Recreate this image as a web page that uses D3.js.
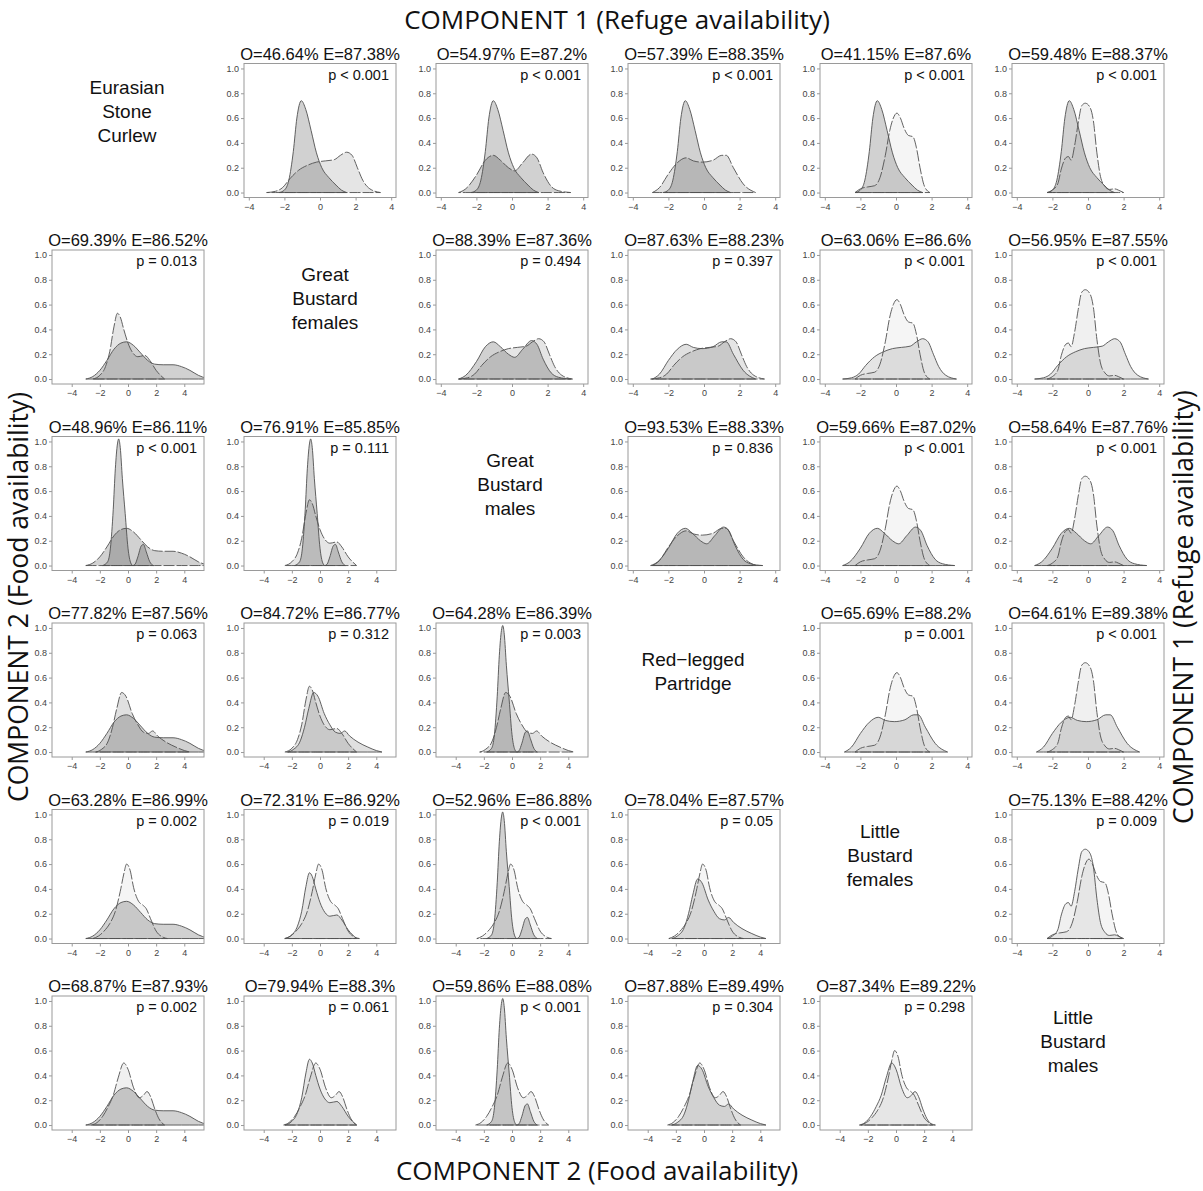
<!DOCTYPE html>
<html>
<head>
<meta charset="utf-8">
<script src="https://cdn.jsdelivr.net/npm/d3@7"></script>
<style>
body { margin: 0; background: #fff; }
svg text { font-family: "Liberation Sans", Arial, sans-serif; }
</style>
</head>
<body>
<svg id="chart" width="1203" height="1191"></svg>
<script>
// species, same order for rows and columns (label lines)
const speciesNames = [
    ["Eurasian", "Stone", "Curlew"],
    ["Great", "Bustard", "females"],
    ["Great", "Bustard", "males"],
    ["Red\u2212legged", "Partridge"],
    ["Little", "Bustard", "females"],
    ["Little", "Bustard", "males"]
];

// component 1 (refuge availability) densities, [score, density]
const refugeStoneCurlew = [[-2.3,0],[-2.0,0.02],[-1.75,0.1],[-1.5,0.33],[-1.3,0.6],[-1.05,0.74],[-0.8,0.67],[-0.5,0.5],[-0.2,0.32],[0.1,0.2],[0.5,0.12],[0.9,0.06],[1.2,0.02],[1.5,0]];
const refugeGreatBustardF = [[-3.0,0],[-2.5,0.01],[-2.1,0.04],[-1.7,0.11],[-1.2,0.18],[-0.7,0.22],[-0.2,0.245],[0.3,0.255],[0.8,0.265],[1.15,0.3],[1.5,0.325],[1.8,0.3],[2.1,0.2],[2.4,0.1],[2.8,0.03],[3.4,0]];
const refugeGreatBustardM = [[-3.0,0],[-2.6,0.03],[-2.0,0.14],[-1.5,0.26],[-1.05,0.3],[-0.65,0.26],[-0.2,0.2],[0.15,0.175],[0.6,0.24],[1.1,0.31],[1.4,0.28],[1.75,0.16],[2.2,0.05],[2.6,0.015],[3.3,0]];
const refugeRedLeggedPartridge = [[-2.9,0],[-2.5,0.04],[-2.0,0.15],[-1.5,0.24],[-1.0,0.28],[-0.6,0.255],[-0.1,0.245],[0.5,0.26],[1.0,0.3],[1.25,0.3],[1.65,0.2],[2.2,0.07],[2.9,0]];
const refugeLittleBustardF = [[-2.3,0],[-2.0,0.03],[-1.6,0.045],[-1.2,0.055],[-0.9,0.12],[-0.6,0.3],[-0.35,0.5],[-0.15,0.6],[0.05,0.64],[0.25,0.6],[0.45,0.52],[0.7,0.46],[0.95,0.45],[1.15,0.36],[1.35,0.2],[1.6,0.05],[1.9,0]];
const refugeLittleBustardM = [[-2.3,0],[-2.0,0.02],[-1.7,0.07],[-1.5,0.19],[-1.25,0.28],[-1.1,0.29],[-0.95,0.26],[-0.75,0.38],[-0.55,0.56],[-0.35,0.7],[-0.15,0.72],[0.1,0.69],[0.3,0.58],[0.5,0.32],[0.7,0.13],[0.95,0.05],[1.2,0.025],[1.5,0.03],[1.7,0.02],[2.0,0]];

// component 2 (food availability) densities
const foodStoneCurlew = [[-3.0,0],[-2.5,0.02],[-2.0,0.07],[-1.5,0.15],[-1.0,0.24],[-0.5,0.29],[-0.1,0.3],[0.4,0.27],[0.9,0.21],[1.4,0.15],[1.9,0.12],[2.5,0.115],[3.2,0.115],[3.8,0.1],[4.4,0.07],[5.0,0.03],[5.6,0.005]];
const foodGreatBustardF = [[-2.5,0],[-2.0,0.03],[-1.6,0.1],[-1.3,0.22],[-1.0,0.42],[-0.75,0.53],[-0.55,0.5],[-0.3,0.4],[0,0.29],[0.35,0.21],[0.7,0.18],[1.2,0.19],[1.55,0.15],[2.0,0.07],[2.6,0]];
const foodGreatBustardM = [[-1.8,0],[-1.45,0.03],[-1.25,0.14],[-1.05,0.45],[-0.9,0.78],[-0.75,0.98],[-0.66,1.02],[-0.55,0.95],[-0.4,0.7],[-0.2,0.42],[0,0.14],[0.2,0.02],[0.35,0],[0.5,0.01],[0.7,0.07],[0.95,0.16],[1.1,0.17],[1.3,0.11],[1.55,0.03],[1.8,0]];
const foodRedLeggedPartridge = [[-2.3,0],[-1.9,0.02],[-1.4,0.09],[-1.1,0.2],[-0.8,0.35],[-0.45,0.48],[-0.15,0.45],[0.3,0.31],[0.7,0.22],[1.1,0.16],[1.45,0.15],[1.75,0.17],[2.1,0.13],[2.7,0.08],[3.4,0.04],[4.0,0.012],[4.4,0]];
const foodLittleBustardF = [[-2.5,0],[-2.1,0.02],[-1.7,0.06],[-1.3,0.12],[-0.9,0.22],[-0.55,0.38],[-0.3,0.52],[-0.1,0.6],[0.15,0.55],[0.4,0.41],[0.75,0.3],[1.05,0.27],[1.3,0.24],[1.6,0.16],[2.0,0.06],[2.5,0.01],[2.8,0]];
const foodLittleBustardM = [[-2.6,0],[-2.2,0.02],[-1.8,0.07],[-1.4,0.15],[-1.05,0.24],[-0.7,0.38],[-0.3,0.5],[0,0.45],[0.4,0.3],[0.8,0.22],[1.1,0.24],[1.35,0.27],[1.6,0.23],[1.9,0.13],[2.2,0.05],[2.6,0]];

const refugeDensity = [refugeStoneCurlew, refugeGreatBustardF, refugeGreatBustardM, refugeRedLeggedPartridge, refugeLittleBustardF, refugeLittleBustardM];
const foodDensity = [foodStoneCurlew, foodGreatBustardF, foodGreatBustardM, foodRedLeggedPartridge, foodLittleBustardF, foodLittleBustardM];

// overlap stats [row][col]: upper triangle = component 1, lower = component 2
const observed = [
    [null, 46.64, 54.97, 57.39, 41.15, 59.48],
    [69.39, null, 88.39, 87.63, 63.06, 56.95],
    [48.96, 76.91, null, 93.53, 59.66, 58.64],
    [77.82, 84.72, 64.28, null, 65.69, 64.61],
    [63.28, 72.31, 52.96, 78.04, null, 75.13],
    [68.87, 79.94, 59.86, 87.88, 87.34, null]
];
const expected = [
    [null, 87.38, 87.2, 88.35, 87.6, 88.37],
    [86.52, null, 87.36, 88.23, 86.6, 87.55],
    [86.11, 85.85, null, 88.33, 87.02, 87.76],
    [87.56, 86.77, 86.39, null, 88.2, 89.38],
    [86.99, 86.92, 86.88, 87.57, null, 88.42],
    [87.93, 88.3, 88.08, 89.49, 89.22, null]
];
const pValues = [
    [null, "< 0.001", "< 0.001", "< 0.001", "< 0.001", "< 0.001"],
    ["= 0.013", null, "= 0.494", "= 0.397", "< 0.001", "< 0.001"],
    ["< 0.001", "= 0.111", null, "= 0.836", "< 0.001", "< 0.001"],
    ["= 0.063", "= 0.312", "= 0.003", null, "= 0.001", "< 0.001"],
    ["= 0.002", "= 0.019", "< 0.001", "= 0.05", null, "= 0.009"],
    ["= 0.002", "= 0.061", "< 0.001", "= 0.304", "= 0.298", null]
];
const yTicks = [0, 0.2, 0.4, 0.6, 0.8, 1.0];
const xTicks = [-4, -2, 0, 2, 4];

// layout / styles
const pitchX = 192;
const pitchY = 186.5;
const left0 = 52;
const top0 = 63.5;
const boxW = 152;
const boxH = 134;
const fillOpacity = [0.18, 0.1, 0.18, 0.12, 0.04, 0.06];   // grey tone per species
const labelCenter = [127, 325, 510, 693, 880, 1073];       // diagonal label x
const labelTop = [30.5, 30.5, 30, 43, 28.5, 28];

const svg = d3.select("#chart");

const y = d3.scaleLinear().domain([-0.04, 1.04]).range([boxH, 0]);
const xRefuge = d3.scaleLinear().domain([-4.27, 4.27]).range([0, boxW]);
const xFood = d3.scaleLinear().domain([-5.4, 5.4]).range([0, boxW]);

function drawPanel(row, col) {
    const upper = col > row;
    const x = upper ? xRefuge : xFood;
    const dens = upper ? refugeDensity : foodDensity;

    const g = svg.append("g")
        .attr("transform", "translate(" + (left0 + pitchX * col) + "," + (top0 + pitchY * row) + ")");

    const clipId = "clip-" + row + "-" + col;
    g.append("clipPath").attr("id", clipId)
        .append("rect").attr("width", boxW).attr("height", boxH);

    const area = d3.area()
        .x(d => x(d[0]))
        .y0(y(0))
        .y1(d => y(d[1]))
        .curve(d3.curveMonotoneX);

    // darker species first, lighter one dashed
    const pair = [row, col].sort((a, b) => fillOpacity[b] - fillOpacity[a]);
    const plot = g.append("g").attr("clip-path", "url(#" + clipId + ")");

    pair.forEach(s => {
        plot.append("path")
            .attr("d", area(dens[s]))
            .attr("fill", "#000")
            .attr("fill-opacity", fillOpacity[s]);
    });
    pair.forEach((s, i) => {
        plot.append("path")
            .attr("d", area(dens[s]))
            .attr("fill", "none")
            .attr("stroke", "#505050")
            .attr("stroke-width", 0.9)
            .attr("stroke-dasharray", i == 1 ? "11,2" : null);
    });

    // axes
    const yAxis = g.append("g")
        .call(d3.axisLeft(y).tickValues(yTicks).tickFormat(d3.format(".1f")).tickSize(3).tickPadding(2));
    const xAxis = g.append("g")
        .attr("transform", "translate(0," + boxH + ")")
        .call(d3.axisBottom(x).tickValues(xTicks).tickSize(3).tickPadding(3));
    [yAxis, xAxis].forEach(a => {
        a.select(".domain").remove();
        a.selectAll("line").attr("stroke", "#999");
        a.selectAll("text")
            .style("font-family", "'Liberation Sans', Arial, sans-serif")
            .style("font-size", "9px")
            .attr("fill", "#444");
    });

    g.append("rect")
        .attr("width", boxW)
        .attr("height", boxH)
        .attr("fill", "none")
        .attr("stroke", "#9a9a9a")
        .attr("stroke-width", 1);

    g.append("text")
        .attr("x", boxW / 2)
        .attr("y", -4)
        .attr("text-anchor", "middle")
        .style("font-size", "16.5px")
        .attr("fill", "#111")
        .text("O=" + observed[row][col] + "% E=" + expected[row][col] + "%");

    g.append("text")
        .attr("x", boxW - 7)
        .attr("y", 16)
        .attr("text-anchor", "end")
        .style("font-size", "14.5px")
        .attr("fill", "#111")
        .text("p " + pValues[row][col]);
}

function drawLabel(i) {
    const t = svg.append("text")
        .attr("text-anchor", "middle")
        .style("font-size", "19px")
        .attr("fill", "#111");
    speciesNames[i].forEach((line, k) => {
        t.append("tspan")
            .attr("x", labelCenter[i])
            .attr("y", top0 + pitchY * i + labelTop[i] + k * 24)
            .text(line);
    });
}

for (let r = 0; r < speciesNames.length; r++) {
    for (let c = 0; c < speciesNames.length; c++) {
        if (r == c) drawLabel(r);
        else drawPanel(r, c);
    }
}

// component titles
const titleFont = "'Open Sans', 'Noto Sans', sans-serif";
svg.append("text")
    .attr("x", 617).attr("y", 29)
    .attr("text-anchor", "middle")
    .style("font-family", titleFont).style("font-size", "26px").attr("fill", "#111")
    .text("COMPONENT 1 (Refuge availability)");
svg.append("text")
    .attr("x", 597).attr("y", 1180)
    .attr("text-anchor", "middle")
    .style("font-family", titleFont).style("font-size", "26px").attr("fill", "#111")
    .text("COMPONENT 2 (Food availability)");
svg.append("text")
    .attr("transform", "translate(28,597) rotate(-90)")
    .attr("text-anchor", "middle")
    .style("font-family", titleFont).style("font-size", "26.5px").attr("fill", "#111")
    .text("COMPONENT 2 (Food availability)");
svg.append("text")
    .attr("transform", "translate(1193,607) rotate(-90)")
    .attr("text-anchor", "middle")
    .style("font-family", titleFont).style("font-size", "26.5px").attr("fill", "#111")
    .text("COMPONENT 1 (Refuge availability)");
</script>
</body>
</html>
